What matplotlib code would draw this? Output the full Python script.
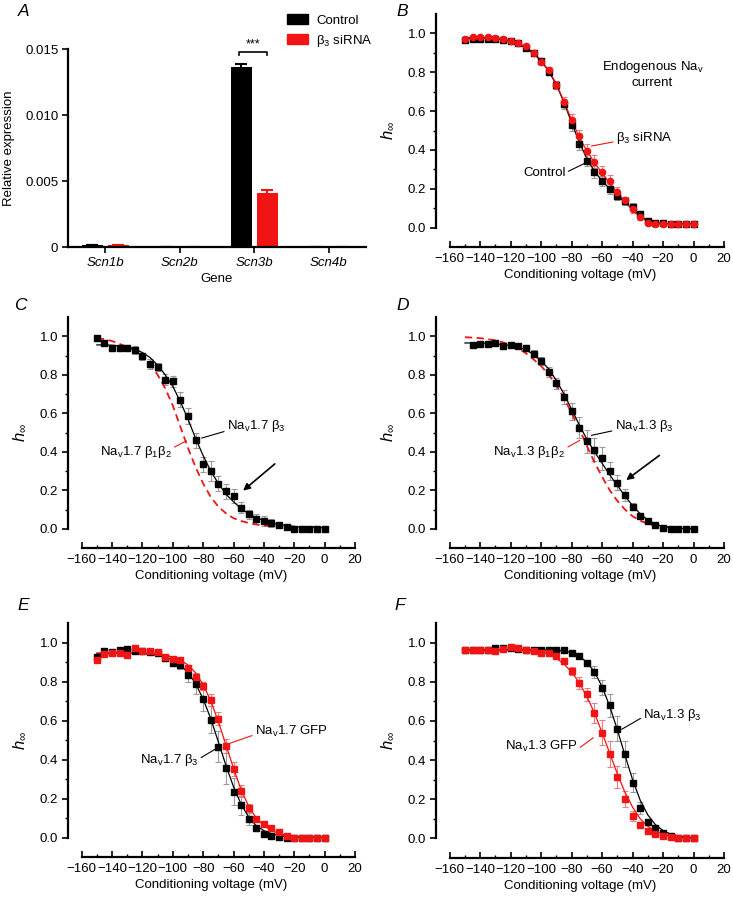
import matplotlib.pyplot as plt
from matplotlib.patches import Patch

plt.rcParams['font.family'] = ['Liberation Sans', 'DejaVu Sans']
plt.rcParams['mathtext.fontset'] = 'custom'
plt.rcParams['mathtext.rm'] = 'Liberation Sans'
plt.rcParams['mathtext.it'] = 'Liberation Sans:italic'
plt.rcParams['font.size'] = 9.5

RED = '#f01414'
RED_ERR = '#f07a7a'
GRAY_ERR = '#9a9a9a'

# ---- panel A: qPCR
genes = ['Scn1b', 'Scn2b', 'Scn3b', 'Scn4b']
ctrl_expr = [0.00015, 0.0, 0.01365, 0.0]
ctrl_sem = [0.00002, 0.0, 0.00025, 0.0]
sirna_expr = [0.00015, 0.0, 0.0041, 0.0]
sirna_sem = [0.00002, 0.0, 0.0002, 0.0]

# ---- conditioning voltages (mV)
volts = [-150, -145, -140, -135, -130, -125, -120, -115, -110, -105,
         -100, -95, -90, -85, -80, -75, -70, -65, -60, -55,
         -50, -45, -40, -35, -30, -25, -20, -15, -10, -5, 0]
volts_d = volts[1:]

# ---- panel B: endogenous Nav current
b_ctrl = [0.965, 0.972, 0.972, 0.972, 0.972, 0.968, 0.96, 0.95, 0.925, 0.9,
          0.86, 0.8, 0.735, 0.635, 0.53, 0.43, 0.345, 0.285, 0.24, 0.2,
          0.165, 0.135, 0.105, 0.07, 0.035, 0.025, 0.022, 0.02, 0.02, 0.02, 0.02]
b_ctrl_err = [0.01, 0.008, 0.008, 0.008, 0.008, 0.008, 0.008, 0.01, 0.01, 0.01,
              0.015, 0.015, 0.02, 0.025, 0.03, 0.03, 0.03, 0.03, 0.025, 0.025,
              0.025, 0.02, 0.02, 0.015, 0.01, 0.008, 0.005, 0.005, 0.005, 0.005, 0.005]
b_ctrl_fit = [0.975, 0.975, 0.975, 0.974, 0.972, 0.967, 0.958, 0.944, 0.925, 0.897,
              0.858, 0.805, 0.735, 0.645, 0.54, 0.44, 0.355, 0.29, 0.24, 0.2,
              0.165, 0.13, 0.095, 0.06, 0.035, 0.025, 0.022, 0.02, 0.02, 0.02, 0.02]
b_sirna = [0.97, 0.98, 0.98, 0.98, 0.978, 0.97, 0.96, 0.95, 0.935, 0.9,
           0.855, 0.81, 0.735, 0.645, 0.555, 0.47, 0.395, 0.34, 0.285, 0.24,
           0.185, 0.14, 0.095, 0.055, 0.025, 0.02, 0.02, 0.018, 0.018, 0.018, 0.018]
b_sirna_err = [0.01, 0.008, 0.008, 0.008, 0.008, 0.008, 0.008, 0.01, 0.01, 0.01,
               0.015, 0.015, 0.02, 0.025, 0.03, 0.035, 0.035, 0.035, 0.03, 0.03,
               0.025, 0.02, 0.02, 0.015, 0.01, 0.008, 0.005, 0.005, 0.005, 0.005, 0.005]
b_sirna_fit = [0.978, 0.978, 0.978, 0.977, 0.975, 0.97, 0.962, 0.948, 0.928, 0.9,
               0.86, 0.81, 0.74, 0.65, 0.555, 0.465, 0.395, 0.335, 0.28, 0.23,
               0.18, 0.135, 0.09, 0.055, 0.03, 0.022, 0.018, 0.018, 0.018, 0.018, 0.018]

# ---- panel C: Nav1.7 beta3 vs beta1beta2
c_b3 = [0.99, 0.965, 0.94, 0.94, 0.94, 0.93, 0.895, 0.855, 0.84, 0.775,
        0.765, 0.67, 0.585, 0.46, 0.335, 0.30, 0.235, 0.195, 0.17, 0.11,
        0.075, 0.05, 0.04, 0.03, 0.018, 0.01, 0.0, 0.0, 0.0, 0.0, 0.0]
c_b3_err = [0.005, 0.01, 0.015, 0.015, 0.015, 0.02, 0.02, 0.025, 0.02, 0.03,
            0.03, 0.04, 0.04, 0.04, 0.04, 0.05, 0.04, 0.04, 0.035, 0.03,
            0.025, 0.025, 0.025, 0.02, 0.01, 0.008, 0.005, 0.005, 0.005, 0.005, 0.005]
c_b3_fit = [0.955, 0.955, 0.953, 0.95, 0.945, 0.935, 0.915, 0.89, 0.85, 0.80,
            0.74, 0.66, 0.57, 0.47, 0.38, 0.30, 0.235, 0.18, 0.14, 0.105,
            0.078, 0.057, 0.042, 0.03, 0.022, 0.016, 0.012, 0.009, 0.007, 0.006, 0.005]
c_b1b2 = [0.99, 0.985, 0.975, 0.96, 0.945, 0.925, 0.895, 0.855, 0.80, 0.73,
          0.64, 0.53, 0.42, 0.32, 0.235, 0.165, 0.115, 0.08, 0.055, 0.04,
          0.03, 0.022, 0.017, 0.014, 0.012, 0.011, 0.01, 0.01, 0.01, 0.01, 0.01]

# ---- panel D: Nav1.3 beta3 vs beta1beta2
d_b3 = [0.955, 0.96, 0.958, 0.965, 0.95, 0.955, 0.95, 0.94, 0.91, 0.87,
        0.815, 0.755, 0.685, 0.61, 0.525, 0.455, 0.41, 0.365, 0.30, 0.24,
        0.175, 0.115, 0.068, 0.042, 0.02, 0.005, 0.0, 0.0, 0.0, 0.0]
d_b3_err = [0.01, 0.01, 0.01, 0.01, 0.01, 0.01, 0.01, 0.015, 0.02, 0.02,
            0.025, 0.03, 0.035, 0.045, 0.055, 0.06, 0.06, 0.06, 0.045, 0.04,
            0.03, 0.02, 0.01, 0.008, 0.005, 0.005, 0.003, 0.003, 0.003, 0.003]
d_b3_fit = [0.965, 0.965, 0.964, 0.963, 0.96, 0.957, 0.952, 0.943, 0.93, 0.905,
            0.872, 0.83, 0.77, 0.70, 0.62, 0.54, 0.465, 0.40, 0.34, 0.28,
            0.225, 0.17, 0.12, 0.078, 0.045, 0.024, 0.012, 0.006, 0.003, 0.001, 0.0]
d_b1b2 = [0.995, 0.993, 0.99, 0.985, 0.978, 0.968, 0.955, 0.937, 0.912, 0.88,
          0.845, 0.80, 0.745, 0.68, 0.60, 0.52, 0.43, 0.345, 0.27, 0.20,
          0.145, 0.10, 0.065, 0.042, 0.026, 0.016, 0.01, 0.006, 0.004, 0.002, 0.001]

# ---- panel E: Nav1.7 beta3 vs GFP
e_b3 = [0.925, 0.955, 0.95, 0.96, 0.965, 0.955, 0.955, 0.95, 0.945, 0.92,
        0.895, 0.885, 0.835, 0.785, 0.71, 0.605, 0.465, 0.355, 0.235, 0.165,
        0.095, 0.05, 0.02, 0.008, 0.005, 0.0, 0.0, 0.0, 0.0, 0.0, 0.0]
e_b3_err = [0.01, 0.01, 0.01, 0.01, 0.01, 0.01, 0.01, 0.01, 0.01, 0.015,
            0.015, 0.02, 0.04, 0.05, 0.06, 0.07, 0.08, 0.08, 0.07, 0.05,
            0.03, 0.015, 0.01, 0.005, 0.005, 0.003, 0.003, 0.003, 0.003, 0.003, 0.003]
e_b3_fit = [0.945, 0.945, 0.945, 0.945, 0.945, 0.944, 0.943, 0.94, 0.935, 0.925,
            0.91, 0.885, 0.845, 0.79, 0.71, 0.61, 0.49, 0.37, 0.26, 0.17,
            0.105, 0.06, 0.035, 0.02, 0.01, 0.005, 0.003, 0.002, 0.001, 0.0, 0.0]
e_gfp = [0.91, 0.94, 0.945, 0.945, 0.935, 0.97, 0.955, 0.955, 0.95, 0.925,
         0.915, 0.91, 0.87, 0.825, 0.775, 0.705, 0.61, 0.47, 0.35, 0.24,
         0.15, 0.095, 0.07, 0.05, 0.03, 0.01, 0.0, 0.0, 0.0, 0.0, 0.0]
e_gfp_err = [0.01, 0.01, 0.01, 0.01, 0.01, 0.01, 0.01, 0.01, 0.01, 0.01,
             0.01, 0.015, 0.015, 0.02, 0.02, 0.03, 0.035, 0.035, 0.035, 0.03,
             0.02, 0.01, 0.01, 0.01, 0.008, 0.005, 0.003, 0.003, 0.003, 0.003, 0.003]
e_gfp_fit = [0.945, 0.945, 0.945, 0.945, 0.945, 0.945, 0.944, 0.943, 0.94, 0.935,
             0.925, 0.91, 0.885, 0.845, 0.785, 0.70, 0.595, 0.475, 0.355, 0.245,
             0.16, 0.10, 0.06, 0.035, 0.02, 0.01, 0.005, 0.003, 0.002, 0.001, 0.0]

# ---- panel F: Nav1.3 beta3 vs GFP
f_b3 = [0.96, 0.96, 0.96, 0.962, 0.97, 0.97, 0.97, 0.965, 0.96, 0.962,
        0.96, 0.962, 0.96, 0.96, 0.945, 0.93, 0.895, 0.85, 0.77, 0.68,
        0.56, 0.43, 0.285, 0.155, 0.085, 0.055, 0.03, 0.012, 0.0, 0.0, 0.0]
f_b3_err = [0.005, 0.005, 0.005, 0.005, 0.005, 0.005, 0.005, 0.005, 0.005, 0.005,
            0.005, 0.005, 0.005, 0.005, 0.01, 0.01, 0.015, 0.03, 0.04, 0.06,
            0.065, 0.065, 0.05, 0.03, 0.015, 0.01, 0.005, 0.005, 0.003, 0.003, 0.003]
f_b3_fit = [0.962, 0.962, 0.962, 0.962, 0.962, 0.962, 0.962, 0.962, 0.962, 0.962,
            0.962, 0.961, 0.96, 0.958, 0.948, 0.93, 0.90, 0.85, 0.775, 0.675,
            0.555, 0.425, 0.30, 0.195, 0.12, 0.07, 0.04, 0.022, 0.012, 0.006, 0.003]
f_gfp = [0.96, 0.96, 0.96, 0.96, 0.955, 0.965, 0.975, 0.97, 0.96, 0.955,
         0.945, 0.945, 0.93, 0.905, 0.855, 0.795, 0.735, 0.64, 0.54, 0.43,
         0.315, 0.2, 0.115, 0.07, 0.04, 0.025, 0.01, 0.005, 0.0, 0.0, 0.0]
f_gfp_err = [0.005, 0.005, 0.005, 0.005, 0.01, 0.01, 0.01, 0.01, 0.005, 0.005,
             0.01, 0.01, 0.01, 0.015, 0.02, 0.03, 0.035, 0.05, 0.065, 0.065,
             0.055, 0.04, 0.025, 0.015, 0.01, 0.008, 0.005, 0.003, 0.003, 0.003, 0.003]
f_gfp_fit = [0.962, 0.962, 0.962, 0.962, 0.962, 0.962, 0.962, 0.961, 0.96, 0.958,
             0.952, 0.94, 0.92, 0.89, 0.85, 0.795, 0.725, 0.64, 0.54, 0.435,
             0.33, 0.235, 0.16, 0.10, 0.062, 0.037, 0.022, 0.012, 0.007, 0.004, 0.002]


def px(x, y, w, h):
    # figure pixel box -> figure fraction rect
    return [x / 733, 1 - (y + h) / 900, w / 733, h / 900]


def style_h(ax):
    ax.set_xlim(-169, 20)
    ax.set_ylim(-0.1, 1.1)
    for s in ['top', 'right']:
        ax.spines[s].set_visible(False)
    ax.spines['left'].set_bounds(0, 1.1)
    ax.spines['bottom'].set_bounds(-160, 20)
    ax.spines['left'].set_linewidth(1.6)
    ax.spines['bottom'].set_linewidth(1.6)
    ax.set_xticks(range(-160, 21, 20))
    ax.set_xticks(range(-150, 20, 20), minor=True)
    ax.set_yticks([0, 0.2, 0.4, 0.6, 0.8, 1.0])
    ax.set_yticks([0.1, 0.3, 0.5, 0.7, 0.9], minor=True)
    ax.set_yticklabels(['0.0', '0.2', '0.4', '0.6', '0.8', '1.0'])
    ax.tick_params(axis='x', which='major', direction='in', length=4, width=1.2, pad=4)
    ax.tick_params(axis='x', which='minor', direction='in', length=2.5, width=1)
    ax.tick_params(axis='y', which='major', direction='out', length=4, width=1.2, pad=3)
    ax.tick_params(axis='y', which='minor', direction='out', length=2.5, width=1)
    ax.set_xlabel('Conditioning voltage (mV)', labelpad=3)
    ax.set_ylabel(r'$h_\infty$', fontsize=12)
    ax.yaxis.set_label_coords(-0.14, 0.5)


def series(ax, v, y, err, fit, color, ecolor, marker='s'):
    ax.errorbar(v, y, yerr=err, fmt='none', ecolor=ecolor, elinewidth=0.8,
                capsize=2, capthick=0.8, zorder=2)
    ax.plot(volts, fit, color=color, lw=0.9, zorder=3)
    ax.plot(v, y, marker, color=color, ms=4.5, mec=color, ls='none', zorder=4)


def note(ax, text, xy, xytext, color, relpos, ha='left'):
    ax.annotate(text, xy=xy, xytext=xytext, ha=ha, va='center',
                arrowprops=dict(arrowstyle='-', color=color, lw=0.8,
                                shrinkA=0, shrinkB=0, relpos=relpos))


def arrow(ax, tip, tail):
    ax.annotate('', xy=tip, xytext=tail,
                arrowprops=dict(arrowstyle='-|>', color='black', lw=1.2,
                                mutation_scale=10, shrinkA=0, shrinkB=0))


fig = plt.figure(figsize=(7.33, 9.0), dpi=100)

# ================= A
axA = fig.add_axes(px(68, 49, 298, 198))
idx = [0, 1, 2, 3]
bw = 0.28
axA.bar([i - 0.175 for i in idx], ctrl_expr, width=bw, color='black',
        yerr=ctrl_sem, error_kw=dict(ecolor='black', elinewidth=1.5, capsize=4, capthick=1.5))
axA.bar([i + 0.175 for i in idx], sirna_expr, width=bw, color=RED,
        yerr=sirna_sem, error_kw=dict(ecolor=RED, elinewidth=1.5, capsize=4, capthick=1.5))
axA.set_xlim(-0.5, 3.5)
axA.set_ylim(0, 0.015)
axA.set_yticks([0, 0.005, 0.010, 0.015])
axA.set_yticklabels(['0', '0.005', '0.010', '0.015'])
axA.set_xticks(idx)
axA.set_xticklabels(genes, style='italic')
for s in ['top', 'right']:
    axA.spines[s].set_visible(False)
axA.spines['left'].set_linewidth(1.6)
axA.spines['bottom'].set_linewidth(1.6)
axA.tick_params(axis='both', direction='out', length=4, width=1.2, pad=3)
axA.set_xlabel('Gene', labelpad=3)
axA.set_ylabel('Relative expression')
axA.yaxis.set_label_coords(-0.178, 0.5)
# significance bracket
axA.plot([1.79, 1.79, 2.17, 2.17], [0.01455, 0.01477, 0.01477, 0.01455],
         color='black', lw=1.2, clip_on=False)
axA.text(1.98, 0.01537, '***', ha='center', va='center', fontsize=9)
handles = [Patch(color='black'), Patch(color=RED)]
axA.legend(handles, ['Control', r'β$_\mathregular{3}$ siRNA'], loc='upper left',
           bbox_to_anchor=(287 / 733, 1 - 14 / 900), bbox_transform=fig.transFigure,
           frameon=False, handlelength=1.6, handleheight=0.8, handletextpad=0.6,
           labelspacing=0.45, borderpad=0, borderaxespad=0)

# ================= B
axB = fig.add_axes(px(436, 14, 288, 233))
style_h(axB)
series(axB, volts, b_ctrl, b_ctrl_err, b_ctrl_fit, 'black', GRAY_ERR)
series(axB, volts, b_sirna, b_sirna_err, b_sirna_fit, RED, RED_ERR, marker='o')
axB.text(-27, 0.79, 'Endogenous Na$_\\mathregular{v}$\ncurrent', ha='center', va='center',
         linespacing=1.2)
note(axB, r'β$_\mathregular{3}$ siRNA', (-67, 0.42), (-51, 0.46), RED, (0, 0.3))
note(axB, 'Control', (-70.3, 0.335), (-84, 0.283), 'black', (1, 0.5), ha='right')

# ================= C
axC = fig.add_axes(px(68, 317, 287, 231))
style_h(axC)
axC.plot(volts, c_b1b2, color=RED, lw=1.3, ls=(0, (4, 2.5)), zorder=3)
series(axC, volts, c_b3, c_b3_err, c_b3_fit, 'black', GRAY_ERR)
note(axC, r'Na$_\mathregular{v}$1.7 β$_\mathregular{3}$', (-81, 0.471), (-64.4, 0.534),
     'black', (0, 0.2))
note(axC, r'Na$_\mathregular{v}$1.7 β$_\mathregular{1}$β$_\mathregular{2}$', (-91, 0.457),
     (-148, 0.40), RED, (1, 0.7))
arrow(axC, (-53.7, 0.198), (-32.8, 0.337))

# ================= D
axD = fig.add_axes(px(436, 317, 288, 231))
style_h(axD)
axD.plot(volts, d_b1b2, color=RED, lw=1.3, ls=(0, (4, 2.5)), zorder=3)
series(axD, volts_d, d_b3, d_b3_err, d_b3_fit, 'black', GRAY_ERR)
note(axD, r'Na$_\mathregular{v}$1.3 β$_\mathregular{3}$', (-67.1, 0.485), (-51.8, 0.536),
     'black', (0, 0.2))
note(axD, r'Na$_\mathregular{v}$1.3 β$_\mathregular{1}$β$_\mathregular{2}$', (-74.7, 0.459),
     (-131.4, 0.40), RED, (1, 0.7))
arrow(axD, (-44.2, 0.253), (-22.4, 0.381))

# ================= E
axE = fig.add_axes(px(68, 623, 287, 234))
style_h(axE)
series(axE, volts, e_b3, e_b3_err, e_b3_fit, 'black', GRAY_ERR)
series(axE, volts, e_gfp, e_gfp_err, e_gfp_fit, RED, RED_ERR)
note(axE, r'Na$_\mathregular{v}$1.7 GFP', (-62.4, 0.483), (-46, 0.543), RED, (0, 0.3))
note(axE, r'Na$_\mathregular{v}$1.7 β$_\mathregular{3}$', (-71.2, 0.457), (-121.8, 0.397),
     'black', (1, 0.55))

# ================= F
axF = fig.add_axes(px(436, 623, 288, 235))
style_h(axF)
series(axF, volts, f_b3, f_b3_err, f_b3_fit, 'black', GRAY_ERR)
series(axF, volts, f_gfp, f_gfp_err, f_gfp_fit, RED, RED_ERR)
note(axF, r'Na$_\mathregular{v}$1.3 β$_\mathregular{3}$', (-47.2, 0.557), (-33, 0.629),
     'black', (0, 0.4))
note(axF, r'Na$_\mathregular{v}$1.3 GFP', (-65.8, 0.514), (-123.9, 0.47), RED, (1, 0.3))

# panel letters
for letter, (x, y) in zip('ABCDEF', [(24, 11), (402, 11), (20, 305), (403, 305), (23, 605), (400, 605)]):
    fig.text(x / 733, 1 - y / 900, letter, fontsize=12.5, style='italic', ha='center', va='center')

fig.savefig('out.png', dpi=100)
